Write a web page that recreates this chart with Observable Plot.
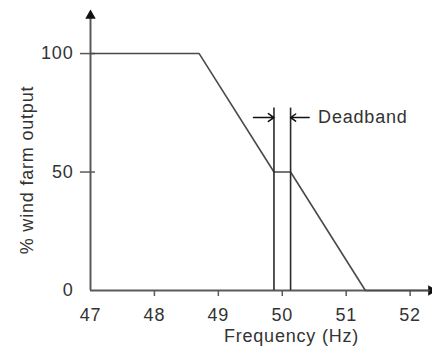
<!DOCTYPE html>
<html>
<head>
<meta charset="utf-8">
<script src="https://cdn.jsdelivr.net/npm/d3@7"></script>
<script src="https://cdn.jsdelivr.net/npm/@observablehq/plot@0.6"></script>
<style>
  html, body { margin: 0; padding: 0; background: #fff; }
</style>
</head>
<body>
<div id="chart"></div>
<script>
// Data
const freq = [47, 48.7, 49.87, 50.13, 51.3, 52.3];
const output = [100, 100, 50, 50, 0, 0];
const deadband = [49.87, 50.13];
const deadbandTop = 77;
const arrowLevel = 73;
const xTicks = [47, 48, 49, 50, 51, 52];
const yTicks = [0, 50, 100];
const yTickMarks = [50, 100];
const xTickMarks = [48, 49, 50, 51, 52];
const xLabel = "Frequency (Hz)";
const yLabel = "% wind farm output";
const annotation = "Deadband";

const xMin = 47, xMax = 52.35;
const yMin = 0, yMax = 118.6;

const curve = freq.map((f, i) => ({f, v: output[i]}));

const axisColor = "#5a5a5a";
const lineColor = "#4a4a4a";
const textColor = "#333";
const blank = () => "";
const fs = 18;

const chart = Plot.plot({
  width: 432,
  height: 353,
  marginLeft: 90,
  marginRight: 0,
  marginTop: 9,
  marginBottom: 63,
  style: {fontFamily: "'Liberation Sans', Arial, sans-serif", fontSize: fs + "px", letterSpacing: "0.8px", color: textColor, background: "#fff"},
  x: {domain: [xMin, xMax], axis: null},
  y: {domain: [yMin, yMax], axis: null},
  marks: [
    // axes lines
    Plot.ruleX([xMin], {y1: yMin, y2: 116, stroke: axisColor, strokeWidth: 2}),
    Plot.ruleY([yMin], {x1: xMin, x2: 52.3, stroke: axisColor, strokeWidth: 2}),
    Plot.dot([{x: xMin, y: 116}], {x: "x", y: "y", symbol: "triangle", r: 3.9, fill: "#111", stroke: "none"}),
    Plot.dot([{x: 52.33, y: yMin}], {x: "x", y: "y", symbol: "triangle", r: 3.9, fill: "#111", stroke: "none", rotate: 90}),
    // tick marks
    Plot.axisX(xTickMarks, {tickSize: 6, tickFormat: blank, label: null, stroke: axisColor, strokeWidth: 1.5}),
    Plot.axisY(yTickMarks, {tickSize: 15, dx: 5, tickFormat: blank, label: null, stroke: axisColor, strokeWidth: 1.5}),
    // tick labels
    Plot.axisX(xTicks, {tickSize: 0, tickPadding: 18, label: null, fill: textColor, fontSize: fs}),
    Plot.axisY(yTicks, {tickSize: 0, tickPadding: 17, label: null, fill: textColor, fontSize: fs}),
    // data line
    Plot.line(curve, {x: "f", y: "v", stroke: lineColor, strokeWidth: 1.6}),
    // deadband lines
    Plot.ruleX(deadband, {y1: yMin, y2: deadbandTop, stroke: "#2a2a2a", strokeWidth: 1.6}),
    Plot.arrow([{x1: 49.55, x2: deadband[0]}, {x1: 50.42, x2: deadband[1]}], {
      x1: "x1", x2: "x2", y1: arrowLevel, y2: arrowLevel,
      stroke: "#111", strokeWidth: 1.5, headLength: 7, headAngle: 70
    }),
    Plot.text([annotation], {x: 50.42, y: arrowLevel, dx: 9, text: d => d, textAnchor: "start", fontSize: fs, fill: textColor}),
    // axis titles
    Plot.text([xLabel], {frameAnchor: "bottom", dx: 30, dy: 51, text: d => d, fontSize: fs, fill: textColor}),
    Plot.text([yLabel], {frameAnchor: "left", textAnchor: "middle", dx: -63, dy: 20, rotate: -90, text: d => d, fontSize: fs, fill: textColor})
  ]
});
document.getElementById("chart").appendChild(chart);
</script>
</body>
</html>
